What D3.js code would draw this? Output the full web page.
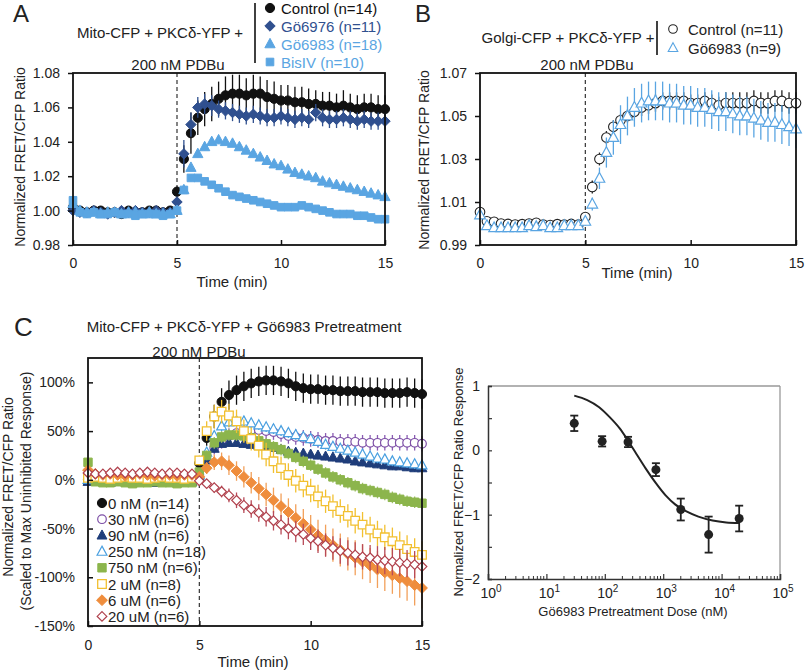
<!DOCTYPE html>
<html><head><meta charset="utf-8">
<script src="https://cdn.jsdelivr.net/npm/d3@7"></script>
<style>
body{margin:0;background:#fff}
svg{display:block}
text{font-family:"Liberation Sans",Arial,Helvetica,sans-serif;fill:#222}
</style>
</head><body>
<svg id="chart" width="805" height="670"></svg>
<script>
// ---------------- DATA ----------------
const timeMin = [0,0.33,0.67,1,1.33,1.67,2,2.33,2.67,3,3.33,3.67,4,4.33,4.67,5,5.33,5.67,6,6.33,6.67,7,7.33,7.67,8,8.33,8.67,9,9.33,9.67,10,10.33,10.67,11,11.33,11.67,12,12.33,12.67,13,13.33,13.67,14,14.33,14.67,15];
const timeTicks = [0,5,10,15];

// Panel A
const aLabels = ["Control (n=14)","Gö6976 (n=11)","Gö6983 (n=18)","BisIV (n=10)"];
const aYTicks = [0.98,1.00,1.02,1.04,1.06,1.08];
const aControl = [1.002,1.000,0.999,1.000,1.000,0.999,0.999,0.998,1.000,0.999,0.999,1.000,1.000,0.999,1.000,
  1.011,1.030,1.045,1.054,1.059,1.062,1.065,1.067,1.068,1.068,1.067,1.068,1.068,1.066,1.065,1.064,1.064,1.063,1.063,1.062,1.062,1.061,1.061,1.060,1.061,1.060,1.059,1.060,1.060,1.059,1.059];
const aControlErr = [0.001,0.001,0.001,0.001,0.001,0.001,0.001,0.001,0.001,0.001,0.001,0.001,0.001,0.001,0.001,
  0.003,0.008,0.012,0.010,0.010,0.010,0.010,0.011,0.011,0.011,0.010,0.011,0.010,0.010,0.010,0.009,0.009,0.009,0.009,0.009,0.008,0.008,0.008,0.008,0.009,0.008,0.008,0.008,0.008,0.008,0.008];
const aG6976 = [1.000,0.999,0.999,1.000,0.999,0.998,0.999,1.000,0.999,1.000,0.999,0.999,1.000,0.999,0.999,
  1.005,1.033,1.050,1.060,1.062,1.061,1.059,1.058,1.057,1.056,1.055,1.056,1.055,1.054,1.054,1.055,1.054,1.053,1.054,1.053,1.057,1.054,1.053,1.053,1.054,1.053,1.052,1.053,1.052,1.052,1.052];
const aG6976Err = [0.001,0.001,0.001,0.001,0.001,0.001,0.001,0.001,0.001,0.001,0.001,0.001,0.001,0.001,0.001,
  0.003,0.008,0.007,0.006,0.006,0.006,0.005,0.005,0.005,0.005,0.005,0.005,0.005,0.005,0.005,0.005,0.005,0.005,0.005,0.005,0.005,0.005,0.005,0.005,0.005,0.005,0.005,0.005,0.005,0.005,0.005];
const aG6983 = [1.004,1.000,0.999,0.999,0.998,0.999,0.999,0.998,0.999,0.999,0.998,0.999,0.998,0.998,0.998,
  1.000,1.012,1.025,1.033,1.037,1.040,1.041,1.040,1.039,1.037,1.035,1.033,1.031,1.029,1.027,1.026,1.024,1.022,1.021,1.020,1.019,1.017,1.016,1.015,1.014,1.013,1.012,1.011,1.010,1.009,1.008];
const aG6983Err = [0.001,0.001,0.001,0.001,0.001,0.001,0.001,0.001,0.001,0.001,0.001,0.001,0.001,0.001,0.001,
  0.001,0.002,0.002,0.002,0.002,0.002,0.002,0.002,0.002,0.002,0.002,0.002,0.002,0.002,0.002,0.002,0.002,0.002,0.002,0.002,0.002,0.002,0.002,0.002,0.002,0.002,0.002,0.002,0.002,0.002,0.002];
const aBisIV = [1.006,0.999,0.998,0.999,0.998,0.998,0.999,0.998,0.998,0.997,0.998,0.998,0.998,0.997,0.998,
  1.000,1.012,1.019,1.019,1.017,1.015,1.013,1.011,1.009,1.008,1.007,1.006,1.005,1.004,1.003,1.002,1.002,1.002,1.003,1.002,1.001,1.000,0.999,0.998,0.998,0.998,0.997,0.997,0.996,0.995,0.995];
const aBisIVErr = [0.001,0.001,0.001,0.001,0.001,0.001,0.001,0.001,0.001,0.001,0.001,0.001,0.001,0.001,0.001,
  0.001,0.002,0.002,0.002,0.002,0.002,0.002,0.002,0.002,0.002,0.002,0.002,0.002,0.002,0.002,0.002,0.002,0.002,0.002,0.002,0.002,0.002,0.002,0.002,0.002,0.002,0.002,0.002,0.002,0.002,0.002];

// Panel B
const bLabels = ["Control (n=11)","Gö6983 (n=9)"];
const bYTicks = [0.99,1.01,1.03,1.05,1.07];
const bControl = [1.0053,1.001,1.0008,1.000,0.9998,0.9995,0.9997,1.000,1.0003,0.9995,0.9993,0.9997,0.9995,0.9998,0.9995,
  1.003,1.017,1.030,1.040,1.045,1.048,1.050,1.052,1.054,1.055,1.056,1.057,1.057,1.057,1.057,1.056,1.056,1.057,1.056,1.055,1.056,1.056,1.056,1.056,1.057,1.056,1.056,1.057,1.057,1.056,1.056];
const bControlErr = [0.001,0.001,0.001,0.001,0.001,0.001,0.001,0.001,0.001,0.001,0.001,0.001,0.001,0.001,0.001,
  0.002,0.003,0.003,0.003,0.003,0.003,0.003,0.003,0.004,0.004,0.004,0.004,0.004,0.004,0.004,0.004,0.004,0.004,0.004,0.004,0.005,0.005,0.005,0.005,0.005,0.005,0.005,0.005,0.005,0.005,0.005];
const bG6983 = [1.004,0.999,0.998,0.998,0.998,0.998,0.998,0.999,0.9985,0.999,0.998,0.998,0.999,0.999,0.999,
  1.001,1.009,1.021,1.033,1.040,1.046,1.050,1.054,1.056,1.057,1.057,1.057,1.056,1.056,1.055,1.055,1.054,1.054,1.053,1.052,1.052,1.051,1.050,1.050,1.049,1.048,1.047,1.047,1.046,1.045,1.044];
const bG6983Err = [0.001,0.001,0.001,0.001,0.001,0.001,0.001,0.001,0.001,0.001,0.001,0.001,0.001,0.001,0.001,
  0.002,0.003,0.005,0.007,0.008,0.009,0.009,0.009,0.009,0.009,0.009,0.009,0.009,0.009,0.009,0.009,0.009,0.009,0.009,0.009,0.009,0.009,0.009,0.009,0.009,0.009,0.009,0.009,0.009,0.009,0.009];

// Panel C (% of max uninhibited response)
const cLabels = ["0 nM (n=14)","30 nM (n=6)","90 nM (n=6)","250 nM (n=18)","750 nM (n=6)","2 uM (n=8)","6 uM (n=6)","20 uM (n=6)"];
const cYTicks = [-150,-100,-50,0,50,100];
const c0nM = [0,1,0,-1,0,1,0,0,-1,0,1,0,0,-1,0,
  17,43,65,80,87,92,96,99,101,102,102,101,99,96,94,93,93,92,92,91,91,91,90,90,90,89,89,89,90,89,88];
const c0nMErr = [3,3,3,3,3,3,3,3,3,3,3,3,3,3,3,
  4,8,12,14,15,15,15,15,15,15,15,15,15,15,15,15,15,15,15,15,15,15,15,15,15,15,15,15,15,15,15];
const c30nM = [3,4,3,2,4,3,3,4,2,3,4,3,3,2,3,
  5,20,33,40,45,48,50,51,51,50,49,47,45,44,43,42,41,40,40,39,39,39,38,38,38,38,38,38,38,38,37];
const c30nMErr = [3,3,3,3,3,3,3,3,3,3,3,3,3,3,3,
  3,5,7,8,8,8,8,8,8,8,8,8,8,8,8,8,8,8,8,8,8,8,8,8,8,8,8,8,8,8,8];
const c90nM = [-2,-1,-2,-3,-2,-2,-3,-2,-2,-3,-2,-2,-3,-2,-2,
  3,20,32,37,38,38,37,36,35,34,33,31,29,28,27,26,25,24,23,22,21,19,18,17,16,15,14,14,13,12,12];
const c90nMErr = [2,2,2,2,2,2,2,2,2,2,2,2,2,2,2,
  3,4,4,4,4,4,4,4,4,4,4,4,4,4,4,4,4,4,4,4,4,4,4,4,4,4,4,4,4,4,4];
const c250nM = [0,1,0,0,1,0,-1,0,1,0,0,1,0,0,1,
  5,28,45,55,59,60,60,58,56,54,52,50,48,46,44,42,39,36,34,32,30,28,26,24,22,21,19,18,17,16,15];
const c250nMErr = [2,2,2,2,2,2,2,2,2,2,2,2,2,2,2,
  3,5,5,5,5,5,5,5,5,5,5,5,5,5,5,5,5,5,5,5,5,5,5,5,5,5,5,5,5,5,5];
const c750nM = [18,-2,-3,-3,-2,-3,-4,-3,-3,-2,-3,-3,-4,-3,-3,
  8,25,38,44,46,46,45,43,40,37,34,31,27,23,19,15,11,7,3,0,-3,-6,-9,-11,-13,-15,-18,-20,-22,-23,-24];
const c750nMErr = [2,2,2,2,2,2,2,2,2,2,2,2,2,2,2,
  3,5,6,6,6,6,6,6,6,6,6,6,6,6,6,6,6,6,6,6,6,6,6,6,6,6,6,6,6,6,6];
const c2uM = [2,3,2,1,2,3,2,2,1,2,3,2,2,1,2,
  20,50,65,70,66,60,50,42,35,26,19,12,5,-1,-6,-11,-17,-22,-27,-32,-37,-42,-46,-51,-55,-59,-63,-67,-71,-74,-77];
const c2uMErr = [3,3,3,3,3,3,3,3,3,3,3,3,3,3,3,
  5,10,12,12,12,12,12,12,12,12,12,12,12,12,12,12,12,12,12,12,12,13,13,13,13,13,14,14,14,14,14];
const c6uM = [10,6,5,6,5,4,5,6,5,4,5,5,4,5,5,
  3,12,18,19,15,9,3,-3,-9,-15,-21,-27,-33,-39,-45,-51,-57,-62,-67,-72,-76,-80,-84,-88,-92,-95,-98,-101,-104,-108,-111];
const c6uMErr = [3,3,3,3,3,3,3,3,3,3,3,3,3,3,3,
  4,6,8,9,10,10,11,11,12,12,13,13,14,14,15,15,16,16,17,17,17,18,18,18,19,19,19,20,20,21,21];
const c20uM = [7,6,6,7,8,7,6,7,8,7,6,7,7,6,6,
  -1,-4,-8,-12,-16,-21,-26,-30,-34,-38,-42,-46,-50,-53,-56,-60,-63,-67,-70,-73,-75,-77,-79,-80,-82,-83,-84,-85,-86,-87,-89];
const c20uMErr = [3,3,3,3,3,3,3,3,3,3,3,3,3,3,3,
  3,4,5,6,7,8,8,9,9,10,10,10,11,11,11,12,12,12,12,13,13,13,13,13,14,14,14,14,14,14,14];

// Panel D (dose response)
const dDoseNM = [30,90,250,750,2000,6000,20000];
const dResponse = [0.42,0.14,0.13,-0.30,-0.92,-1.31,-1.06];
const dResponseErr = [0.12,0.08,0.08,0.10,0.17,0.28,0.20];
const dFitDose = [30,50,80,120,180,250,350,500,750,1100,1600,2500,4000,7000,12000,20000];
const dFitResponse = [0.85,0.78,0.67,0.52,0.34,0.15,-0.06,-0.28,-0.51,-0.70,-0.84,-0.95,-1.03,-1.09,-1.12,-1.13];
const dYTicks = [-2,-1,0,1];
const dXTicks = [1,10,100,1000,10000,100000];

// ---------------- DRAW ----------------
const svg = d3.select("#chart");
const FF = '"Liberation Sans", Arial, Helvetica, sans-serif';

function markerPath(shape, r) {
  if (shape === "circle") return `M${-r},0A${r},${r} 0 1,0 ${r},0A${r},${r} 0 1,0 ${-r},0Z`;
  if (shape === "square") return `M${-r},${-r}H${r}V${r}H${-r}Z`;
  if (shape === "diamond") return `M0,${-r}L${r},0L0,${r}L${-r},0Z`;
  if (shape === "triangle") return `M0,${-r*1.05}L${r*0.95},${r*0.7}L${-r*0.95},${r*0.7}Z`;
}

function txt(g, x, y, s, o = {}) {
  const t = g.append("text").attr("x", x).attr("y", y).text(s)
    .attr("font-size", o.size || 15).attr("text-anchor", o.anchor || "start");
  if (o.fill) t.style("fill", o.fill);
  if (o.rot) t.attr("transform", `rotate(-90,${x},${y})`);
  return t;
}

function drawSeries(g, x, y, s) {
  const pts = timeMin.map((t, i) => ({ t, v: s.values[i], e: s.err[i] }));
  const sg = g.append("g");
  sg.selectAll("line").data(pts).join("line")
    .attr("x1", d => x(d.t)).attr("x2", d => x(d.t))
    .attr("y1", d => y(d.v - d.e)).attr("y2", d => y(d.v + d.e))
    .attr("stroke", s.errColor).attr("stroke-width", 1.3);
  sg.selectAll("path").data(pts).join("path")
    .attr("transform", d => `translate(${x(d.t)},${y(d.v)})`)
    .attr("d", markerPath(s.shape, s.r))
    .attr("fill", s.fill).attr("stroke", s.stroke).attr("stroke-width", s.sw || 1);
}

function timePanel(p) {
  const x = d3.scaleLinear().domain([0, 15]).range([p.left, p.right]);
  const y = d3.scaleLinear().domain(p.yDomain).range([p.bottom, p.top]);
  const g = svg.append("g");
  g.append("line").attr("x1", x(5)).attr("x2", x(5)).attr("y1", p.top).attr("y2", p.bottom)
    .attr("stroke", "#333").attr("stroke-width", 1.2).attr("stroke-dasharray", "4,3");
  p.series.forEach(s => drawSeries(g, x, y, s));
  g.append("rect").attr("x", p.left).attr("y", p.top)
    .attr("width", p.right - p.left).attr("height", p.bottom - p.top)
    .attr("fill", "none").attr("stroke", "#111").attr("stroke-width", 1.8);
  const ya = g.append("g").attr("transform", `translate(${p.left},0)`)
    .call(d3.axisLeft(y).tickValues(p.yTicks).tickFormat(p.yFmt).tickSize(p.yTickSize).tickPadding(p.yPad));
  ya.select(".domain").remove();
  ya.selectAll("line").attr("stroke", "#111").attr("stroke-width", 1.5);
  ya.selectAll("text").attr("font-size", 14).attr("font-family", FF).style("fill", "#222");
  const xa = g.append("g").attr("transform", `translate(0,${p.bottom})`)
    .call(d3.axisBottom(x).tickValues(timeTicks).tickFormat(d3.format("d")).tickSize(-5).tickPadding(p.xPad));
  xa.select(".domain").remove();
  xa.selectAll("line").attr("stroke", "#111").attr("stroke-width", 1.5);
  xa.selectAll("text").attr("font-size", 14).attr("font-family", FF).style("fill", "#222");
  return { x, y, g };
}

const BLACK = "#111", DBLUE = "#30508f", LBLUE = "#5aa5e2";

// ===== Panel A =====
const aSeries = [
  { values: aControl, err: aControlErr, shape: "circle", r: 4.6, fill: BLACK, stroke: BLACK, errColor: "#111" },
  { values: aG6976, err: aG6976Err, shape: "diamond", r: 5.2, fill: DBLUE, stroke: DBLUE, errColor: DBLUE },
  { values: aG6983, err: aG6983Err, shape: "triangle", r: 5.4, fill: LBLUE, stroke: LBLUE, errColor: LBLUE },
  { values: aBisIV, err: aBisIVErr, shape: "square", r: 3.8, fill: LBLUE, stroke: LBLUE, errColor: LBLUE }
];
timePanel({ left: 73, right: 385, top: 73, bottom: 245, yDomain: [0.98, 1.08], yTicks: aYTicks,
  yFmt: d3.format(".2f"), yTickSize: 5, yPad: 8, xPad: 13, series: aSeries });
txt(svg, 13, 22, "A", { size: 24 });
txt(svg, 160, 38, "Mito-CFP + PKCδ-YFP +", { anchor: "middle" });
txt(svg, 178, 70, "200 nM PDBu", { anchor: "middle" });
txt(svg, 232, 287, "Time (min)", { anchor: "middle" });
txt(svg, 25, 157, "Normalized FRET/CFP Ratio", { anchor: "middle", rot: true, size: 14 });
svg.append("line").attr("x1", 255).attr("x2", 255).attr("y1", 3).attr("y2", 63).attr("stroke", "#111").attr("stroke-width", 1.6);
const aLegColors = [BLACK, DBLUE, LBLUE, LBLUE];
const aLegY = [8, 26, 44, 62];
aSeries.forEach((s, i) => {
  svg.append("path").attr("transform", `translate(270,${aLegY[i]})`).attr("d", markerPath(s.shape, s.r))
    .attr("fill", s.fill).attr("stroke", s.stroke);
  txt(svg, 281, aLegY[i] + 5.5, aLabels[i], { fill: aLegColors[i] });
});

// ===== Panel B =====
const bSeries = [
  { values: bControl, err: bControlErr, shape: "circle", r: 4.8, fill: "#fff", stroke: "#222", errColor: "#222", sw: 1.1 },
  { values: bG6983, err: bG6983Err, shape: "triangle", r: 5.6, fill: "#fff", stroke: LBLUE, errColor: LBLUE, sw: 1.2 }
];
timePanel({ left: 480, right: 796, top: 73, bottom: 245, yDomain: [0.99, 1.07], yTicks: bYTicks,
  yFmt: d3.format(".2f"), yTickSize: 5, yPad: 8, xPad: 13, series: bSeries });
txt(svg, 415, 22, "B", { size: 24 });
txt(svg, 568, 43, "Golgi-CFP + PKCδ-YFP +", { anchor: "middle" });
txt(svg, 587, 70, "200 nM PDBu", { anchor: "middle" });
txt(svg, 637, 278, "Time (min)", { anchor: "middle" });
txt(svg, 429, 160, "Normalized FRET/CFP Ratio", { anchor: "middle", rot: true, size: 14 });
svg.append("line").attr("x1", 657).attr("x2", 657).attr("y1", 21).attr("y2", 55).attr("stroke", "#111").attr("stroke-width", 1.6);
const bLegY = [29, 48];
bSeries.forEach((s, i) => {
  svg.append("path").attr("transform", `translate(673,${bLegY[i]})`).attr("d", markerPath(s.shape, s.r * 0.9))
    .attr("fill", s.fill).attr("stroke", s.stroke).attr("stroke-width", 1.1);
  txt(svg, 688, bLegY[i] + 5.5, bLabels[i]);
});

// ===== Panel C =====
const cSeries = [
  { values: c0nM, err: c0nMErr, shape: "circle", r: 4.6, fill: BLACK, stroke: BLACK, errColor: "#111" },
  { values: c30nM, err: c30nMErr, shape: "circle", r: 4.3, fill: "#fff", stroke: "#7d4fa6", errColor: "#8a5cb3", sw: 1.2 },
  { values: c90nM, err: c90nMErr, shape: "triangle", r: 5.2, fill: "#1f3d7a", stroke: "#1f3d7a", errColor: "#1f3d7a" },
  { values: c250nM, err: c250nMErr, shape: "triangle", r: 5.2, fill: "#fff", stroke: "#4aa0e0", errColor: "#4aa0e0", sw: 1.2 },
  { values: c750nM, err: c750nMErr, shape: "square", r: 4.2, fill: "#8cb54c", stroke: "#8cb54c", errColor: "#9cc062" },
  { values: c2uM, err: c2uMErr, shape: "square", r: 4.3, fill: "#fff", stroke: "#f2c030", errColor: "#f2c030", sw: 1.3 },
  { values: c6uM, err: c6uMErr, shape: "diamond", r: 5.4, fill: "#ef8d3c", stroke: "#ef8d3c", errColor: "#f2a05a" },
  { values: c20uM, err: c20uMErr, shape: "diamond", r: 4.8, fill: "#fff", stroke: "#b0404c", errColor: "#b84a58", sw: 1.2 }
];
timePanel({ left: 88, right: 422, top: 358, bottom: 626, yDomain: [-150, 125], yTicks: cYTicks,
  yFmt: d => d + "%", yTickSize: -5, yPad: 13, xPad: 14, series: cSeries });
txt(svg, 14, 336, "C", { size: 26 });
txt(svg, 244, 332, "Mito-CFP + PKCδ-YFP + Gö6983 Pretreatment", { anchor: "middle" });
txt(svg, 199, 357, "200 nM PDBu", { anchor: "middle" });
txt(svg, 253, 667, "Time (min)", { anchor: "middle" });
txt(svg, 13, 487, "Normalized FRET/CFP Ratio", { anchor: "middle", rot: true, size: 14 });
txt(svg, 31, 491, "(Scaled to Max Uninhibited Response)", { anchor: "middle", rot: true, size: 14 });
const cLegY = [503, 519.2, 535.4, 551.6, 567.8, 584, 600.2, 616.4];
cSeries.forEach((s, i) => {
  svg.append("path").attr("transform", `translate(102,${cLegY[i]})`).attr("d", markerPath(s.shape, s.r))
    .attr("fill", s.fill).attr("stroke", s.stroke).attr("stroke-width", s.sw || 1);
  txt(svg, 108, cLegY[i] + 5.5, cLabels[i]);
});

// ===== Panel D =====
const xD = d3.scaleLog().domain([1, 1e5]).range([488, 780]);
const yD = d3.scaleLinear().domain([-2, 1]).range([579, 386]);
const gD = svg.append("g");
gD.append("line").attr("x1", 488).attr("x2", 780).attr("y1", yD(1)).attr("y2", yD(1)).attr("stroke", "#999").attr("stroke-width", 1.3);
gD.append("line").attr("x1", xD(1e5)).attr("x2", xD(1e5)).attr("y1", yD(1)).attr("y2", yD(-2)).attr("stroke", "#999").attr("stroke-width", 1.3);
const yaD = gD.append("g").attr("transform", `translate(${xD(1)},0)`)
  .call(d3.axisLeft(yD).ticks(6).tickSize(-4).tickPadding(8).tickFormat(d => dYTicks.includes(d) ? d3.format("d")(d) : ""));
yaD.select(".domain").attr("stroke", "#333").attr("stroke-width", 1.5);
yaD.selectAll("line").attr("stroke", "#333").attr("stroke-width", 1.2);
yaD.selectAll("text").attr("font-size", 14).attr("font-family", FF).style("fill", "#222");
const minorTicks = [];
dXTicks.slice(0, -1).forEach(dec => { for (let k = 2; k <= 9; k++) minorTicks.push(dec * k); });
const xaD = gD.append("g").attr("transform", `translate(0,${yD(-2)})`)
  .call(d3.axisBottom(xD).tickValues(dXTicks).tickSize(-5).tickPadding(10).tickFormat(""));
xaD.select(".domain").attr("stroke", "#333").attr("stroke-width", 1.5);
xaD.selectAll("line").attr("stroke", "#333").attr("stroke-width", 1.2);
gD.append("g").selectAll("line").data(minorTicks).join("line")
  .attr("x1", d => xD(d)).attr("x2", d => xD(d)).attr("y1", yD(-2)).attr("y2", yD(-2) - 3)
  .attr("stroke", "#333").attr("stroke-width", 1);
dXTicks.forEach(v => {
  const t = gD.append("text").attr("x", xD(v) + 3).attr("y", 598).attr("text-anchor", "middle").attr("font-size", 14);
  t.append("tspan").text("10");
  t.append("tspan").attr("dy", -6).attr("font-size", 10).text(String(Math.round(Math.log10(v))));
});
// fit curve
gD.append("path").datum(dFitDose.map((d, i) => [d, dFitResponse[i]]))
  .attr("d", d3.line().x(d => xD(d[0])).y(d => yD(d[1])).curve(d3.curveMonotoneX))
  .attr("fill", "none").attr("stroke", "#222").attr("stroke-width", 2);
// error bars + points
const dPts = dDoseNM.map((d, i) => ({ d, v: dResponse[i], e: dResponseErr[i] }));
const eg = gD.append("g").attr("stroke", "#222").attr("stroke-width", 1.8);
dPts.forEach(p => {
  const cx = xD(p.d);
  eg.append("line").attr("x1", cx).attr("x2", cx).attr("y1", yD(p.v - p.e)).attr("y2", yD(p.v + p.e));
  eg.append("line").attr("x1", cx - 4).attr("x2", cx + 4).attr("y1", yD(p.v - p.e)).attr("y2", yD(p.v - p.e));
  eg.append("line").attr("x1", cx - 4).attr("x2", cx + 4).attr("y1", yD(p.v + p.e)).attr("y2", yD(p.v + p.e));
});
gD.append("g").selectAll("circle").data(dPts).join("circle")
  .attr("cx", p => xD(p.d)).attr("cy", p => yD(p.v)).attr("r", 4.5).attr("fill", "#222");
txt(svg, 633, 616, "Gö6983 Pretreatment Dose (nM)", { anchor: "middle", size: 13 });
txt(svg, 463, 482, "Normalized FRET/CFP Ratio Response", { anchor: "middle", rot: true, size: 13 });
</script>
</body></html>
